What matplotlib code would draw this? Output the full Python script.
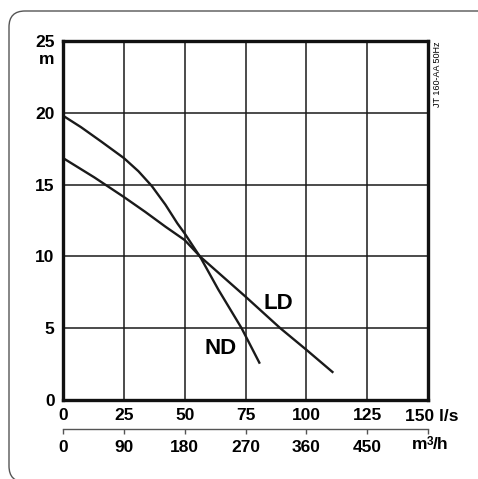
import matplotlib
matplotlib.use("Agg")
import matplotlib.pyplot as plt
from matplotlib.patches import FancyBboxPatch

plt.rcParams['font.family'] = ['Liberation Sans', 'DejaVu Sans']

# pump curves, flow in l/s, head in m
nd_q = [0, 7.4, 15.7, 25, 31, 36.5, 42.1, 47, 50, 56.6, 63.8, 73.4, 80.9]
nd_h = [19.8, 19.0, 18.0, 16.85, 15.93, 14.9, 13.6, 12.3, 11.6, 9.9, 7.7, 5.0, 2.53]
ld_q = [0, 12.9, 25, 33.8, 42.1, 50, 56.6, 75, 89.3, 100, 111.1]
ld_h = [16.85, 15.5, 14.14, 13.1, 12.07, 11.14, 9.95, 7.2, 5.0, 3.5, 1.9]

q_ticks = [0, 25, 50, 75, 100, 125, 150]
h_ticks = [0, 5, 10, 15, 20, 25]
m3h_ticks = [0, 90, 180, 270, 360, 450, 540]

fig = plt.figure(figsize=(4.78, 4.79), dpi=100)

# rounded frame around the whole chart
frame = FancyBboxPatch((0.09, -0.03), 5.0, 4.71,
                       boxstyle="round,pad=0,rounding_size=0.16",
                       transform=fig.dpi_scale_trans, fill=False,
                       edgecolor='#555555', linewidth=1.0)
fig.patches.append(frame)

ax = fig.add_axes([0.1318, 0.1649, 0.7636, 0.7495])
ax.plot(nd_q, nd_h, color='#1a1a1a', lw=1.7, solid_capstyle='butt')
ax.plot(ld_q, ld_h, color='#1a1a1a', lw=1.7, solid_capstyle='butt')

ax.set_xlim(0, 150)
ax.set_ylim(0, 25)
ax.set_xticks(q_ticks)
ax.set_xticklabels([str(v) for v in q_ticks[:-1]] + [''])
ax.set_yticks(h_ticks)
ax.tick_params(length=0, labelsize=12.5, pad=6)
for lab in ax.get_xticklabels() + ax.get_yticklabels():
    lab.set_fontweight('bold')
ax.grid(True, color='#1a1a1a', lw=1.1)
for s in ax.spines.values():
    s.set_linewidth(2.4)
    s.set_color('#111111')

# units
ax.annotate('m', xy=(0, 23.7), xycoords=('axes fraction', 'data'),
            xytext=(-9, 0), textcoords='offset pixels',
            ha='right', va='center', fontsize=12.5, fontweight='bold')
ax.annotate('150 l/s', xy=(140.5, 0), xycoords=('data', 'axes fraction'),
            xytext=(0, -9), textcoords='offset pixels',
            ha='left', va='top', fontsize=12.5, fontweight='bold')

# curve labels
ax.text(64.6, 3.6, 'ND', ha='center', va='center', fontsize=16, fontweight='bold')
ax.text(88.6, 6.7, 'LD', ha='center', va='center', fontsize=16, fontweight='bold')

ax.text(1.025, 1.0, 'JT 160-AA 50Hz', transform=ax.transAxes, rotation=90,
        ha='center', va='top', fontsize=6.5)

# second flow scale in m3/h
sec = ax.secondary_xaxis(-0.0816, functions=(lambda x: x * 3.6, lambda x: x / 3.6))
sec.set_xticks(m3h_ticks)
sec.set_xticklabels([str(v) for v in m3h_ticks[:-1]] + [''])
sec.tick_params(direction='out', length=3.5, width=1.0, color='#555555',
                labelsize=12.5, pad=4)
for lab in sec.get_xticklabels():
    lab.set_fontweight('bold')
sec.spines['bottom'].set_linewidth(1.0)
sec.spines['bottom'].set_color('#555555')

# "m3/h" unit, built from three pieces so the 3 sits as in the original
unit_xy = (143.2, -0.0816)
for txt, dx, dy, fs in [('m', 0, -8, 12.5), ('3', 15.5, -7, 8.5), ('/h', 21.5, -8, 12.5)]:
    ax.annotate(txt, xy=unit_xy, xycoords=('data', 'axes fraction'),
                xytext=(dx, dy), textcoords='offset pixels',
                ha='left', va='top', fontsize=fs, fontweight='bold')

fig.savefig('out.png', dpi=100)
